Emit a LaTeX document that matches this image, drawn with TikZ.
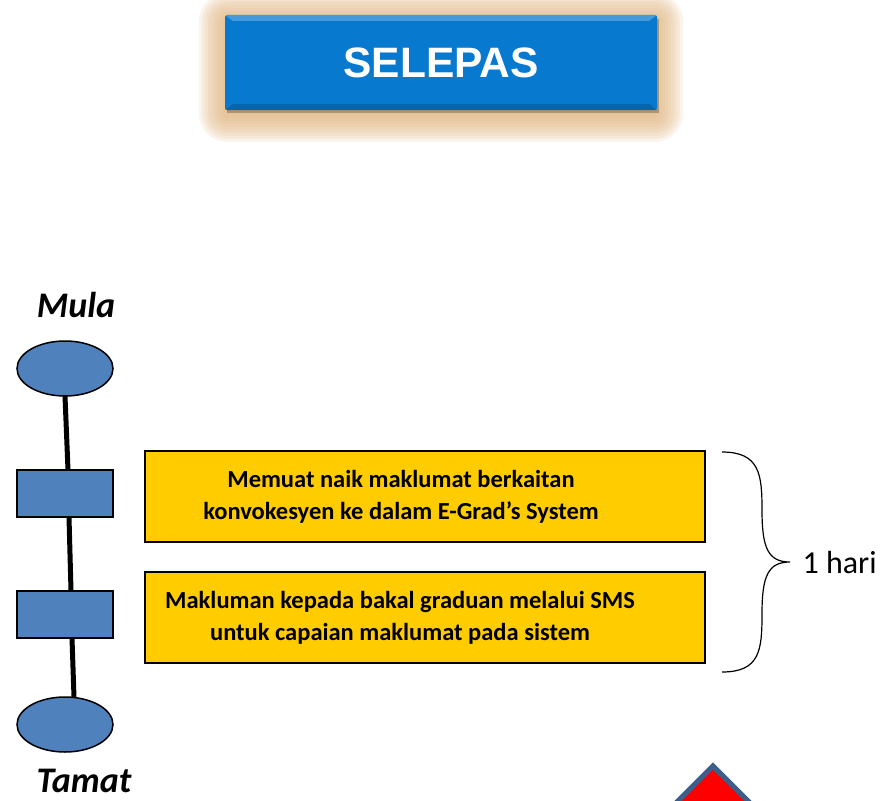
\documentclass[tikz,border=0pt]{standalone}
\usepackage{fontspec}
\setmainfont{Carlito}
\newfontfamily\arialb{Liberation Sans}
\usetikzlibrary{shapes.geometric,decorations.pathreplacing}
\definecolor{titleblue}{HTML}{0779CF}
\definecolor{glow}{HTML}{E0B47F}
\definecolor{stepblue}{HTML}{4F81BD}
\definecolor{boxyellow}{HTML}{FFCC00}
\definecolor{triblue}{HTML}{3B5F8A}
\tikzset{
  term/.style={ellipse,draw=black,line width=1.5pt,fill=stepblue,minimum width=96pt,minimum height=55pt,inner sep=0pt},
  stepbox/.style={rectangle,draw=black,line width=1.5pt,fill=stepblue,minimum width=96pt,minimum height=47pt,inner sep=0pt},
  infobox/.style={rectangle,draw=black,line width=1.5pt,fill=boxyellow,minimum width=560pt,minimum height=91pt,inner sep=0pt},
  infotext/.style={font=\fontsize{24.5}{32}\selectfont\bfseries,align=center},
  spine/.style={line width=5pt,black},
  lbl/.style={font=\fontsize{36}{40}\selectfont\bfseries\itshape}
}
\begin{document}
\begin{tikzpicture}[x=1pt,y=-1pt]
\useasboundingbox (0,0) rectangle (885,800);
% glow
\foreach \g in {26,23,...,0}{
  \fill[glow,opacity=0.15,rounded corners=\g pt+2pt] (225-\g,15-\g+4) rectangle (657+\g,110+\g+6);
}
\fill[black,opacity=0.25] (227,19) rectangle (659,113);
\node[rectangle,fill=titleblue,minimum width=432pt,minimum height=95pt,inner sep=0pt,rounded corners=2pt] (title) at (441,62.5) {};
\fill[white,opacity=0.25] (title.north west) -- (title.north east) -- ++(-8,6) -- ([xshift=8]title.north west |- 0,21) -- cycle;
\fill[black,opacity=0.15] (title.south west) -- (title.south east) -- ++(-8,-6) -- ([xshift=8]title.south west |- 0,104) -- cycle;
\node[text=white,font=\fontsize{42.5}{42}\selectfont\arialb\bfseries] at (title.center) {SELEPAS};

% flow
\node[lbl] (mula) at (76,305) {Mula};
\node[term] (t1) at (65,368.5) {};
\node[stepbox] (s1) at (65,493.5) {};
\node[stepbox] (s2) at (65,614.5) {};
\node[term] (t2) at (65,724.5) {};
\node[lbl,anchor=base,inner sep=0pt] (tamat) at (84,792) {Tamat};
\draw[spine] (65,396) -- (68,470);
\draw[spine] (69,517) -- (71,591);
\draw[spine] (72,638) -- (74,697);

% info boxes
\node[infobox] (b1) at (425,496.5) {};
\node[infotext] at (401,497) {Memuat naik maklumat berkaitan\\konvokesyen ke dalam E-Grad’s System};
\node[infobox] (b2) at (425,617.5) {};
\node[infotext] at (400,618) {Makluman kepada bakal graduan melalui SMS\\untuk capaian maklumat pada sistem};

% brace
\draw[line width=1.2pt] (722,452) .. controls (760,452) and (762,475) .. (762,510)
  .. controls (762,548) and (768,562) .. (790,562)
  .. controls (768,562) and (762,576) .. (762,614)
  .. controls (762,650) and (760,672) .. (722,672);
\node[anchor=west,font=\fontsize{32}{34}\selectfont] (hari) at (799,562) {1 hari};

% triangle
\draw[triblue,line width=5pt,fill=red,line join=miter] (713,766) -- (755,808) -- (671,808) -- cycle;
\end{tikzpicture}
\end{document}
